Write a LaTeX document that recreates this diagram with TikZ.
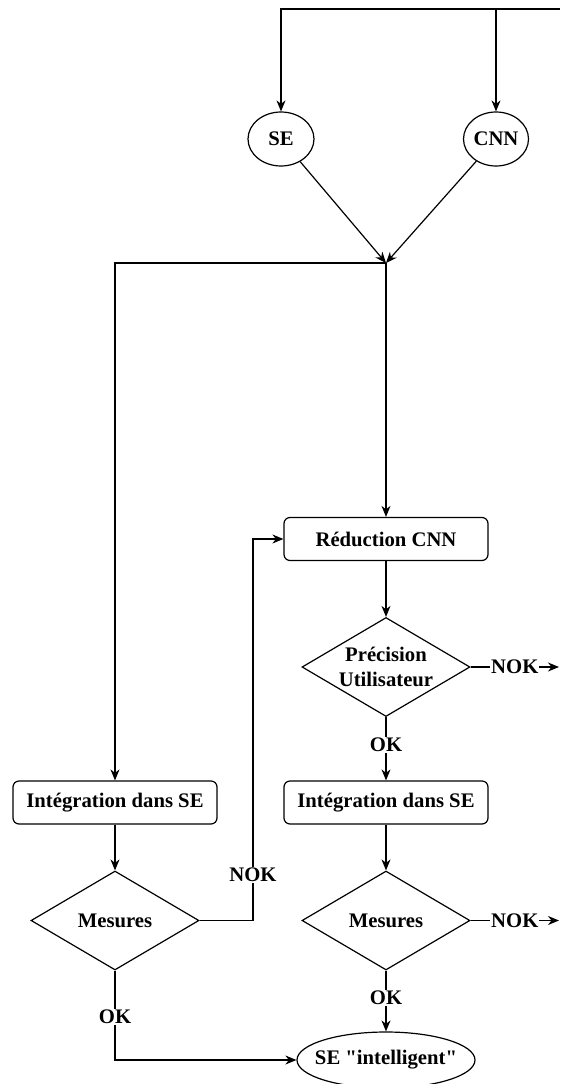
\documentclass[tikz,border=0pt]{standalone}
\usepackage{fontspec}
\setmainfont{Liberation Serif}[Ligatures=TeXOff]
\usetikzlibrary{arrows.meta,shapes.geometric}

\begin{document}
\begin{tikzpicture}[x=1pt,y=-1pt,
  font=\fontsize{20.7}{25}\selectfont\bfseries,
  line width=1.2pt,
  arrow/.style={-{Stealth[length=11pt,width=9pt,inset=3.5pt]}},
  stepbox/.style={draw,rectangle,rounded corners=6pt,minimum width=204pt,minimum height=43pt,inner sep=0pt},
  oval/.style={draw,ellipse,inner sep=0pt},
  decision/.style={draw,diamond,aspect=1.7,inner sep=0pt,minimum width=168pt,minimum height=99pt},
  txt/.style={inner sep=0pt,align=center},
  lbl/.style={fill=white,inner sep=1pt}]
\useasboundingbox (0,0) rectangle (560,1084);

% inputs
\coordinate (src) at (560,9);
\node[oval,minimum width=66pt,minimum height=54pt] (se) at (281,139) {};
\node[txt] (setxt) at (se) {SE};
\node[oval,minimum width=65pt,minimum height=54pt] (cnn) at (496,139) {};
\node[txt] (cnntxt) at (cnn) {CNN};
\coordinate (m) at (386,263);

% right branch
\node[stepbox] (red) at (386,539) {Réduction CNN};
\node[decision] (prec) at (386,667) {};
\node[txt] (prectxt) at (prec) {Précision\\Utilisateur};
\node[stepbox] (intR) at (386,802.5) {Intégration dans SE};
\node[decision] (mesR) at (386,920.5) {};
\node[txt] (mesRtxt) at (mesR) {Mesures};

% left branch
\node[stepbox] (intL) at (115,802.5) {Intégration dans SE};
\node[decision] (mesL) at (115,920.5) {};
\node[txt] (mesLtxt) at (mesL) {Mesures};

% result
\node[oval,minimum width=178pt,minimum height=56pt] (out) at (386,1060) {};
\node[txt] (outtxt) at (out) {SE "intelligent"};

\coordinate (e1) at (559,667);
\coordinate (e2) at (559,920.5);
\coordinate (loop) at (253,920.5);

% connectors
\draw[arrow] (src) -| (se.north);
\draw[arrow] (cnn.north |- src) -- (cnn.north);
\draw[arrow] (se) -- (m);
\draw[arrow] (cnn) -- (m);
\draw[arrow] (m) -- (red.north);
\draw[arrow] (m) -| (intL.north);

\draw[arrow] (red.south) -- (prec.north);
\draw[arrow] (prec.east) -- node[lbl]{NOK} (e1);
\draw[arrow] (prec.south) -- node[lbl,pos=0.44]{OK} (intR.north);
\draw[arrow] (intR.south) -- (mesR.north);
\draw[arrow] (mesR.east) -- node[lbl]{NOK} (e2);
\draw[arrow] (mesR.south) -- node[lbl,pos=0.45]{OK} (out.north);

\draw[arrow] (intL.south) -- (mesL.north);
\draw[arrow] (mesL.east) -- (loop) -- node[lbl,pos=0.12]{NOK} (loop |- red.west) -- (red.west);
\draw[arrow] (mesL.south) -- node[lbl,pos=0.52]{OK} (mesL.south |- out.west) -- (out.west);
\end{tikzpicture}
\end{document}
